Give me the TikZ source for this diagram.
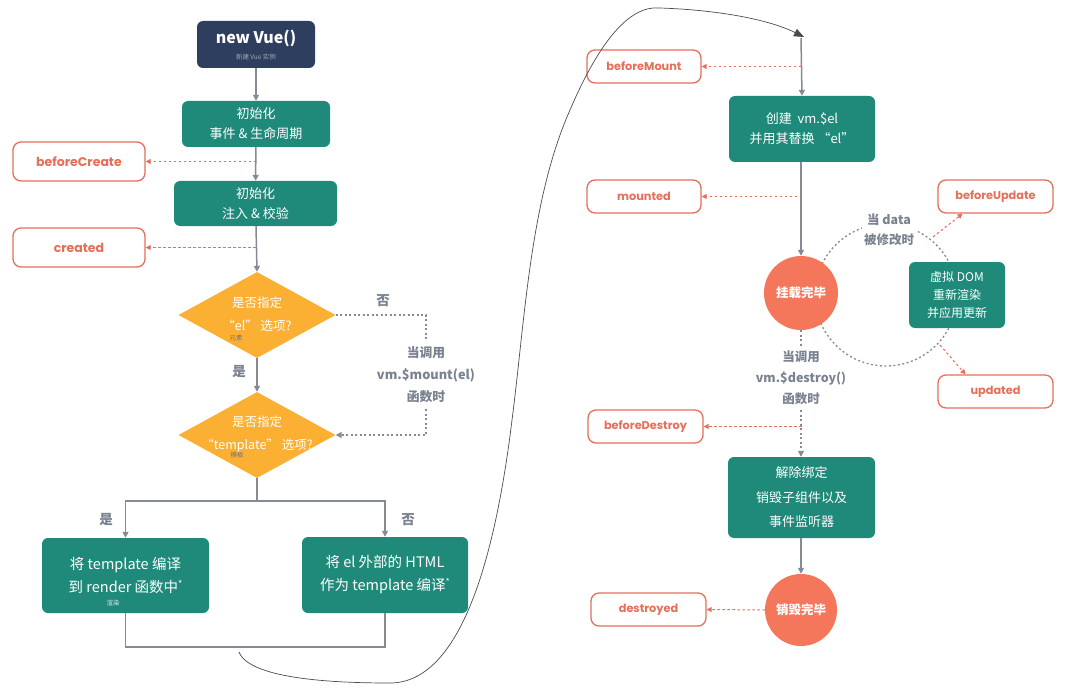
\documentclass[tikz,border=0pt]{standalone}
\usepackage{fontspec}
\setmainfont{Noto Sans CJK SC}
\newfontfamily\hookfont{Poppins}
\usetikzlibrary{arrows.meta,shapes.geometric}
\definecolor{navy}{HTML}{2D3E5E}
\definecolor{tealbox}{HTML}{1F8A7A}
\definecolor{ambar}{HTML}{FBB034}
\definecolor{tomato}{HTML}{F5775B}
\definecolor{hookred}{HTML}{E4705A}
\definecolor{slate}{HTML}{858B96}
\definecolor{notegrey}{HTML}{7A8290}
\tikzset{
  box/.style={rectangle, rounded corners=6pt, fill=tealbox, text=white, align=center, inner sep=0pt},
  hook/.style={rectangle, rounded corners=8pt, draw=hookred, line width=1.3pt, fill=white, text=hookred, font=\hookfont\bfseries\fontsize{12.5}{14}\selectfont, inner sep=0pt},
  rhook/.style={hook, font=\hookfont\bfseries\fontsize{11.3}{13}\selectfont},
  dia/.style={diamond, fill=ambar, inner sep=0pt, minimum width=157pt, minimum height=86pt},
  circ/.style={circle, fill=tomato, text=white, inner sep=0pt, font=\bfseries\fontsize{12.5}{14}\selectfont},
  arr/.style={draw=slate, line width=1.5pt, -{Triangle[length=6pt,width=6pt]}},
  plain/.style={draw=slate, line width=1.5pt},
  hookarr/.style={draw=hookred, line width=1pt, dash pattern=on 2.5pt off 2.5pt, -{Triangle[length=5pt,width=5pt]}},
  gdash/.style={draw=slate, line width=1.3pt, dash pattern=on 2pt off 2.5pt},
  note/.style={text=notegrey, font=\bfseries\fontsize{13.5}{22}\selectfont, align=center, inner sep=0pt},
  tiny/.style={font=\fontsize{6.5}{7}\selectfont, inner sep=0pt},
  penline/.style={draw=black!70, line width=0.7pt, -{Triangle[length=10pt,width=8pt]}},
  bt/.style={font=\fontsize{13}{20}\selectfont},
  bigt/.style={font=\fontsize{14.5}{23}\selectfont}
}
\begin{document}
\begin{tikzpicture}[x=1pt,y=-1pt]
\useasboundingbox[fill=white] (0,0) rectangle (1069,690);

% ---------- left column ----------
\node[box, fill=navy, minimum width=118pt, minimum height=47pt] (newvue) at (256,44.5) {};
\node[text=white, font=\bfseries\fontsize{16}{18}\selectfont, inner sep=0pt] (newvuet) at (256,38) {new Vue()};
\node[tiny, text=navy!45] (newvues) at (256,57) {新建 Vue 实例};

\node[box, bt, minimum width=148pt, minimum height=46pt] (init1) at (256,124) {初始化\\事件 \& 生命周期};
\node[box, bt, minimum width=163pt, minimum height=45pt] (init2) at (255.5,203.5) {初始化\\注入 \& 校验};

\node[hook, minimum width=132pt, minimum height=39pt] (bc) at (79,161.5) {beforeCreate};
\node[hook, minimum width=132pt, minimum height=39pt] (cr) at (79,247.5) {created};

\node[dia] (d1) at (257,315) {};
\node[text=white, align=center, font=\fontsize{12.5}{23}\selectfont, inner sep=0pt] (d1t) at (257,314) {是否指定\\“el” 选项?};
\node[tiny, text=black!55] (d1s) at (236,338) {元素};

\node[dia] (d2) at (257,435) {};
\node[text=white, align=center, font=\fontsize{12.5}{23}\selectfont, inner sep=0pt] (d2t) at (257,434) {是否指定\\“template” 选项?};
\node[tiny, text=black!55] (d2s) at (237,455) {模板};

\node[box, bigt, minimum width=167pt, minimum height=75pt] (boxL) at (125.5,575.5) {将 template 编译\\到 render 函数中\raisebox{5pt}{\fontsize{9}{9}\selectfont *}};
\node[tiny, text=white!85!tealbox] (boxLs) at (113,603) {渲染};
\node[box, bigt, minimum width=166pt, minimum height=76pt] (boxR) at (385,575) {将 el 外部的 HTML\\作为 template 编译\raisebox{5pt}{\fontsize{9}{9}\selectfont *}};

\node[note, font=\bfseries\fontsize{13.5}{14}\selectfont] (no1) at (383,301) {否};
\node[note, font=\bfseries\fontsize{13.5}{14}\selectfont] (yes1) at (239,372) {是};
\node[note, font=\bfseries\fontsize{13.5}{14}\selectfont] (yes2) at (106,520) {是};
\node[note, font=\bfseries\fontsize{13.5}{14}\selectfont] (no2) at (408,520) {否};

\node[note, inner ysep=6pt, font=\bfseries\fontsize{12.8}{22}\selectfont] (mountnote) at (426,375) {当调用\\vm.\$mount(el)\\函数时};

\draw[arr] (newvue) -- (init1);
\draw[arr] (init1) -- (init2);
\draw[hookarr] (bc.east -| init1.south) -- (bc.east);
\draw[hookarr] (cr.east -| init2.south) -- (cr.east);
\draw[arr] (init2) -- (d1.north);
\draw[arr] (d1.south) -- (d2.north);
\draw[gdash] (d1.east) -| (mountnote.north);
\draw[gdash, -{Triangle[length=6pt,width=6pt]}] (mountnote.south) |- (d2.east);
\draw[plain] (d2.south) -- ++(0,23) coordinate (split);
\draw[arr] (split) -| (boxL.north);
\draw[arr] (split) -| (boxR.north);
\draw[plain] (boxL.south) -- ++(0,34) -| (boxR.south);

% ---------- right column ----------
\coordinate (top) at (801,38);
\draw[gdash] (886,295) circle (71pt);

\node[box, bt, minimum width=146pt, minimum height=66pt] (create) at (802,129) {创建\ \ vm.\$el\\并用其替换 “el”};
\node[rhook, minimum width=114pt, minimum height=33pt] (bm) at (644,66.5) {beforeMount};
\node[rhook, minimum width=114pt, minimum height=33pt] (mo) at (644,196.5) {mounted};
\node[circ, minimum size=74pt] (c1) at (801,293) {挂载完毕};
\node[box, font=\fontsize{12}{18}\selectfont, minimum width=96pt, minimum height=66pt] (vdom) at (957,295) {虚拟 DOM\\重新渲染\\并应用更新};
\node[note, fill=white, inner sep=2pt, font=\bfseries\fontsize{12.5}{20}\selectfont] (datanote) at (889,230) {当 data\\被修改时};
\node[rhook, minimum width=115pt, minimum height=33pt] (bu) at (995.5,196.5) {beforeUpdate};
\node[rhook, minimum width=115pt, minimum height=33pt] (up) at (995.5,391.5) {updated};
\node[note, font=\bfseries\fontsize{12.5}{21}\selectfont, inner ysep=5pt] (destroynote) at (801,378) {当调用\\vm.\$destroy()\\函数时};
\node[rhook, minimum width=115pt, minimum height=33pt] (bd) at (645.5,426.5) {beforeDestroy};
\node[box, font=\fontsize{13}{24.5}\selectfont, minimum width=147pt, minimum height=81pt] (unbind) at (801.5,497.5) {解除绑定\\销毁子组件以及\\事件监听器};
\node[circ, minimum size=72pt] (c2) at (801,610) {销毁完毕};
\node[rhook, minimum width=115pt, minimum height=33pt] (de) at (648.5,609.5) {destroyed};

\draw[arr] (top) -- (create.north);
\draw[hookarr] (bm.east -| top) -- (bm.east);
\draw[hookarr] (mo.east -| create.south) -- (mo.east);
\draw[arr] (create.south -| c1.north) -- (c1.north);
\coordinate (u1) at (933,237);
\coordinate (u2) at (940,345);
\draw[hookarr] (u1) -- ([xshift=-33pt]bu.south);
\draw[hookarr] (u2) -- ([xshift=-30pt]up.north);
\draw[gdash] (c1.south) -- (destroynote.north);
\draw[gdash, -{Triangle[length=6pt,width=6pt]}] (destroynote.south) -- (unbind.north -| destroynote.south);
\draw[hookarr] (bd.east -| unbind.north) -- (bd.east);
\draw[arr] (unbind.south -| c2.north) -- (c2.north);
\draw[hookarr] (c2.west) -- (de.east);

% ---------- hand-drawn curve ----------
\coordinate (penstart) at (239,652);
\draw[penline] (penstart) .. controls (250,680) and (340,683) .. (390,683)
  .. controls (460,683) and (495,560) .. (512,420)
  .. controls (525,320) and (530,200) .. (570,110)
  .. controls (600,40) and (630,5) .. (660,8)
  .. controls (720,10) and (770,20) .. (804,37);
\end{tikzpicture}
\end{document}
